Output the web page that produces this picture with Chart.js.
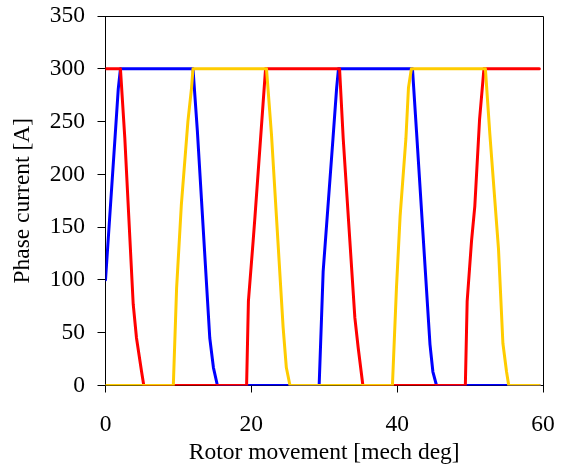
<!DOCTYPE html>
<html>
<head>
<meta charset="utf-8">
<script src="https://cdn.jsdelivr.net/npm/chart.js@4/dist/chart.umd.min.js"></script>
<style>
  html, body { margin: 0; padding: 0; background: #fff; }
  canvas { display: block; }
</style>
</head>
<body>
<canvas id="chart" width="565" height="468"></canvas>
<script>
// Phase currents of a three-phase machine versus rotor position
const xTicks = [0, 20, 40, 60];
const yTicks = [0, 50, 100, 150, 200, 250, 300, 350];

// Phase A (blue)
const phaseAx = [0, 1.3, 1.75, 2.05, 12.0, 12.6, 14.3, 14.8, 15.35, 29.3, 29.85, 31.2, 31.7, 31.95, 42.1, 42.65, 44.5, 44.9, 45.4, 59.5];
const phaseAy = [100, 234, 281, 300, 300, 241, 45, 17, 0, 0, 108, 234, 282, 300, 300, 241, 39, 13, 0, 0];

// Phase B (red)
const phaseBx = [0, 2.05, 2.65, 3.8, 4.25, 4.95, 5.25, 19.35, 19.6, 20.25, 20.5, 21.6, 21.95, 32.1, 32.6, 34.2, 34.65, 35.3, 49.35, 49.6, 50.2, 50.65, 51.3, 51.9, 59.5];
const phaseBy = [300, 300, 234, 77, 45, 13, 0, 0, 80, 137, 160, 266, 300, 300, 234, 64, 36, 0, 0, 80, 137, 170, 252, 300, 300];

// Phase C (yellow)
const phaseCx = [0, 9.3, 9.75, 10.4, 11.3, 11.8, 12.0, 22.08, 22.77, 24.36, 24.8, 25.3, 39.35, 39.9, 40.4, 41.2, 41.55, 41.95, 52.1, 52.7, 53.9, 54.5, 55.0, 55.3, 59.5];
const phaseCy = [0, 0, 92, 171, 250, 282, 300, 300, 237, 55, 17, 0, 0, 92, 160, 234, 282, 300, 300, 239, 129, 40, 13, 0, 0];

const toPoints = (xs, ys) => xs.map((x, i) => ({ x: x, y: ys[i] }));

const FONT = 'Liberation Serif, "Times New Roman", serif';
const font = { family: FONT, size: 23.5 };

// Box around the plot area (top and right edges)
const frame = {
  id: 'frame',
  afterDraw(chart) {
    const { ctx, chartArea: a } = chart;
    ctx.save();
    ctx.strokeStyle = '#000';
    ctx.lineWidth = 1;
    ctx.beginPath();
    ctx.moveTo(a.left, a.top + 0.5);
    ctx.lineTo(a.right + 0.5, a.top + 0.5);
    ctx.lineTo(a.right + 0.5, a.bottom);
    ctx.stroke();
    ctx.restore();
  }
};

new Chart(document.getElementById('chart'), {
  type: 'scatter',
  data: {
    datasets: [
      { label: 'C', data: toPoints(phaseCx, phaseCy), borderColor: '#FFCC00' },
      { label: 'B', data: toPoints(phaseBx, phaseBy), borderColor: '#FF0000' },
      { label: 'A', data: toPoints(phaseAx, phaseAy), borderColor: '#0000FF' }
    ].map(d => Object.assign(d, {
      showLine: true, borderWidth: 3, pointRadius: 0, tension: 0, fill: false,
      borderJoinStyle: 'round', borderCapStyle: 'round'
    }))
  },
  options: {
    responsive: false,
    animation: false,
    devicePixelRatio: 1,
    layout: { padding: { top: 16, right: 22, left: 0, bottom: 0 } },
    plugins: { legend: { display: false }, tooltip: { enabled: false } },
    scales: {
      x: {
        type: 'linear', min: 0, max: 60,
        afterBuildTicks: s => { s.ticks = xTicks.map(v => ({ value: v })); },
        ticks: { color: '#000', font: font, padding: 18, maxRotation: 0 },
        grid: { drawOnChartArea: false, tickLength: 7, color: '#000', tickColor: '#000' },
        border: { color: '#000', width: 1 },
        title: { display: true, text: 'Rotor movement [mech deg]', color: '#000', font: font, padding: { top: 0, bottom: 1 } },
        afterFit: s => { s.height = 82.5; s.paddingLeft = 0; s.paddingRight = 0; }
      },
      y: {
        type: 'linear', min: 0, max: 350,
        afterBuildTicks: s => { s.ticks = yTicks.map(v => ({ value: v })); },
        ticks: { color: '#000', font: font, padding: 12.5 },
        grid: { drawOnChartArea: false, tickLength: 8, color: '#000', tickColor: '#000' },
        border: { color: '#000', width: 1 },
        title: { display: true, text: 'Phase current [A]', color: '#000', font: font, padding: { top: 9, bottom: 0 } },
        afterFit: s => { s.width = 105.5; s.paddingTop = 0; s.paddingBottom = 0; }
      }
    }
  },
  plugins: [frame]
});
</script>
</body>
</html>
